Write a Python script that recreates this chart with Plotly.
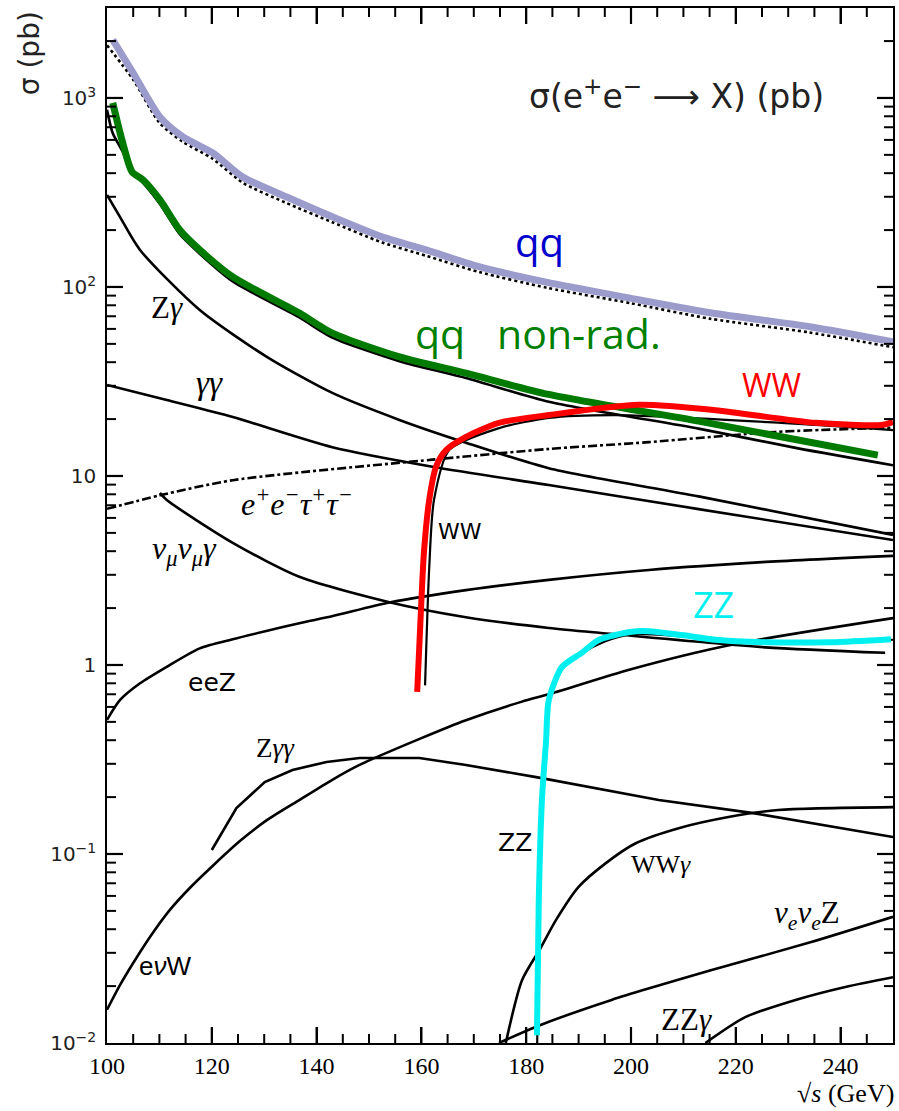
import plotly.graph_objects as go
import math

# ---------------- data ----------------
qq_x = [101.1, 105.0, 110.1, 114.5, 120.2, 125.9, 134.3, 143.0, 152.5, 160.9, 171.0, 183.8, 199.6, 215.4, 234.4, 250.0]
qq_y = [2030, 1356, 793, 622, 512, 382, 299, 235, 184, 157, 128, 106, 87.5, 72.8, 61.4, 51.2]

qqtot_x = [100, 105, 110, 114.5, 120, 126, 134, 143, 152.5, 161, 171, 184, 200, 215, 234, 250]
qqtot_y = [1900, 1250, 740, 585, 480, 355, 280, 220, 172, 146, 120, 99, 82, 68, 57.5, 48]

nonrad_x = [101.1, 103.0, 104.8, 106.9, 110.1, 113.9, 117.7, 124.0, 136.7, 143.0, 155.8, 168.5, 184.3, 212.9, 231.9, 247.1]
nonrad_y = [942, 578, 406, 368, 289, 200, 157, 113, 72.8, 57, 42.7, 35, 27, 19.5, 15.5, 12.9]

nonrad_blk_x = [100, 101.1, 103, 104.8, 106.9, 110.1, 113.9, 117.7, 124, 136.7, 143, 155.8, 168.5, 184.3, 212.9, 231.9, 250]
nonrad_blk_y = [865, 650, 520, 410, 355, 275, 190, 150, 107, 69, 54, 40.5, 33, 24.7, 17.8, 14.0, 11.4]

zg_x = [100, 102.5, 106.3, 117.7, 130.5, 143, 155.8, 168.5, 184.3, 212.9, 250]
zg_y = [307, 234, 157, 75.5, 42.7, 27.5, 19.8, 15, 11.0, 7.8, 4.88]

gg_x = [100, 111.4, 124, 143, 162.1, 184.3, 212.9, 250]
gg_y = [30.3, 25.2, 20.5, 14.2, 11.2, 8.95, 6.68, 4.58]

tau_x = [100, 110.1, 124, 162.1, 184.3, 203.4, 227.5, 250]
tau_y = [6.7, 7.9, 9.5, 12.2, 13.9, 15.1, 17.1, 18.0]

nmg_x = [110.1, 111.4, 124, 136.7, 153.9, 168.5, 184.3, 193.9, 225.6, 248.5]
nmg_y = [8.13, 7.46, 4.43, 2.93, 2.15, 1.79, 1.57, 1.48, 1.24, 1.16]

eez_x = [100, 102.5, 106.3, 111.4, 117.7, 124.0, 130.4, 136.7, 143.1, 153.9, 168.5, 184.3, 203.4, 225, 250]
eez_y = [0.512, 0.653, 0.80, 0.978, 1.225, 1.368, 1.513, 1.663, 1.815, 2.14, 2.49, 2.82, 3.18, 3.5, 3.78]

zgg_x = [120.0, 124.7, 130.1, 135.4, 141.9, 148.2, 159.6, 168.5, 181.9, 205.3, 223, 250]
zgg_y = [0.105, 0.175, 0.240, 0.278, 0.307, 0.322, 0.322, 0.296, 0.255, 0.193, 0.165, 0.123]

enw_x = [100, 102.5, 105.0, 108.2, 112.0, 115.8, 120.2, 125.3, 130.5, 136.7, 143.0, 148.2, 160, 168.5, 179.2, 184.3, 200, 219.2, 250]
enw_y = [0.015, 0.0203, 0.0265, 0.0364, 0.0506, 0.0661, 0.0867, 0.1167, 0.151, 0.193, 0.247, 0.296, 0.41, 0.51, 0.64, 0.70, 0.95, 1.28, 1.77]

wwg_x = [176.1, 179.2, 182.8, 185.7, 190, 195.2, 200.9, 209.1, 218.6, 228.1, 250]
wwg_y = [0.01, 0.0215, 0.032, 0.0448, 0.067, 0.0895, 0.114, 0.137, 0.157, 0.171, 0.177]

nez_x = [174.8, 181.9, 196.3, 215.4, 234.4, 250]
nez_y = [0.01, 0.0122, 0.0169, 0.0243, 0.0342, 0.0465]

zzg_x = [214.2, 221.8, 231.4, 240.9, 250]
zzg_y = [0.01, 0.0137, 0.0169, 0.0198, 0.0223]

ww_blk_x = [160.7, 161.5, 162.4, 165.3, 174.8, 184.3, 197.1, 228.7, 250]
ww_blk_y = [0.78, 3.3, 7.46, 13.7, 17.9, 20.3, 21, 19.1, 17.5]

zz_blk_x = [182.1, 182.5, 183.2, 184.3, 186.8, 190.6, 195, 200, 210, 225, 250]
zz_blk_y = [0.01, 0.06, 0.25, 0.62, 0.95, 1.15, 1.33, 1.45, 1.42, 1.33, 1.36]

ww_x = [159.2, 160.0, 160.5, 161.5, 162.8, 164.7, 168.5, 174.8, 184.3, 201.5, 216.1, 235.2, 247.7, 250]
ww_y = [0.72, 2.2, 4.0, 7.5, 11.2, 13.7, 16.1, 19.1, 21, 23.8, 22.3, 19.1, 18.6, 19.3]

zz_x = [182.05, 182.4, 183.0, 183.8, 184.3, 186.8, 190.6, 193.9, 200.1, 203.4, 209.7, 216.1, 225.6, 238.2, 249.6]
zz_y = [0.011, 0.057, 0.193, 0.40, 0.65, 0.975, 1.16, 1.36, 1.5, 1.51, 1.44, 1.36, 1.32, 1.32, 1.37]

x_ticks = [100, 120, 140, 160, 180, 200, 220, 240]
y_ticks = [0.01, 0.1, 1, 10, 100, 1000]
y_ticktext = ["10<sup>−2</sup>", "10<sup>−1</sup>", "1", "10", "10<sup>2</sup>", "10<sup>3</sup>"]

X_RANGE = [100, 250]
Y_RANGE = [-2, 3.476]   # log10 units

# ---------------- figure ----------------
fig = go.Figure()
BLK = "black"

def add(x, y, color=BLK, width=2.6, dash="solid", shape="spline"):
    fig.add_trace(go.Scatter(x=x, y=y, mode="lines",
                             line=dict(color=color, width=width, dash=dash,
                                       shape=shape, smoothing=0.7),
                             showlegend=False, hoverinfo="skip"))

add(qqtot_x, qqtot_y, dash="dot")
add(nonrad_blk_x, nonrad_blk_y)
add(zg_x, zg_y)
add(gg_x, gg_y)
add(tau_x, tau_y, dash="dashdot")
add(nmg_x, nmg_y)
add(eez_x, eez_y)
add(zgg_x, zgg_y, shape="linear")
add(enw_x, enw_y)
add(wwg_x, wwg_y)
add(nez_x, nez_y)
add(zzg_x, zzg_y)
add(ww_blk_x, ww_blk_y, width=2.2)
add(zz_blk_x, zz_blk_y, width=2.2)

add(qq_x, qq_y, color="#9b9bcc", width=7)
add(nonrad_x, nonrad_y, color="#007a00", width=7)
add(ww_x, ww_y, color="#ff0000", width=6)
add(zz_x, zz_y, color="#00f0f0", width=6)

# ---------------- tick marks (inside, on all four sides) as line traces ----------------
PLOT_W, PLOT_H = 788.0, 1035.0
GEV_PER_PX = (X_RANGE[1] - X_RANGE[0]) / PLOT_W
DEC_PER_PX = (Y_RANGE[1] - Y_RANGE[0]) / PLOT_H
x_minor = [v for v in range(105, 250, 5) if v % 20 != 0]
y_minor = [m * 10 ** e for e in range(-2, 4) for m in range(2, 10)
           if math.log10(m * 10 ** e) < Y_RANGE[1]]

def tick_trace(xs, ys, w):
    fig.add_trace(go.Scatter(x=xs, y=ys, mode="lines", connectgaps=False,
                             line=dict(color="#000000", width=w),
                             showlegend=False, hoverinfo="skip"))

for vals, ln, w in ((x_ticks[1:], 16, 2.2), (x_minor, 9, 2.0)):
    xs, ys = [], []
    ylo, yhi = 10 ** Y_RANGE[0], 10 ** Y_RANGE[1]
    for v in vals:
        xs += [v, v, None, v, v, None]
        ys += [ylo, 10 ** (Y_RANGE[0] + ln * DEC_PER_PX), None,
               yhi, 10 ** (Y_RANGE[1] - ln * DEC_PER_PX), None]
    tick_trace(xs, ys, w)
for vals, ln, w in ((y_ticks[1:], 16, 2.2), (y_minor, 9, 2.0)):
    xs, ys = [], []
    for v in vals:
        xs += [X_RANGE[0], X_RANGE[0] + ln * GEV_PER_PX, None,
               X_RANGE[1], X_RANGE[1] - ln * GEV_PER_PX, None]
        ys += [v, v, None, v, v, None]
    tick_trace(xs, ys, w)

def lab(x, y, text, size=22, color="black", family="Liberation Sans"):
    fig.add_annotation(x=x, y=math.log10(y), xref="x", yref="y", text=text,
                       showarrow=False, font=dict(size=size, color=color, family=family),
                       xanchor="center", yanchor="middle")

G = lambda s: "<i>" + s + "</i>"
SER = "Liberation Serif"
lab(111.4, 10 ** 1.889, "Z" + G("γ"), family=SER, size=31)
lab(119.6, 10 ** 1.492, G("γγ"), family=SER, size=33)
lab(136.2, 10 ** 0.862, G("e<sup>+</sup>e<sup>−</sup>τ<sup>+</sup>τ<sup>−</sup>"), family=SER, size=32)
lab(167.4, 10 ** 0.704, "WW", size=22, family="DejaVu Sans")
lab(114.7, 10 ** 0.608, G("ν<sub>μ</sub>ν<sub>μ</sub>γ"), family=SER, size=32)
lab(120.0, 10 ** -0.090, "eeZ", size=25, family="DejaVu Sans")
lab(132.2, 10 ** -0.439, "Z" + G("γγ"), size=27, family=SER)
lab(177.9, 10 ** -0.937, "ZZ", size=25, family="DejaVu Sans")
lab(205.8, 10 ** -1.058, "WW" + G("γ"), size=26, family=SER)
lab(233.6, 10 ** -1.323, G("ν<sub>e</sub>ν<sub>e</sub>") + "Z", size=31, family=SER)
lab(210.6, 10 ** -1.878, "ZZ" + G("γ"), size=31, family=SER)
lab(111.0, 10 ** -1.593, "e" + G("ν") + "W", size=26, family="Liberation Sans")

lab(182.6, 10 ** 2.24, "qq", size=40, color="#0000cc", family="Open Sans")
lab(182.2, 10 ** 1.755, "qq&nbsp;&nbsp; non-rad.", size=41, color="#008000", family="Open Sans")
lab(227.0, 10 ** 1.485, "WW", size=32, color="#ff0000", family="Open Sans")
lab(215.7, 10 ** 0.32, "ZZ", size=36, color="#00f0f0", family="Open Sans")

lab(208.7, 10 ** 3.016, "σ(e<sup>+</sup>e<sup>−</sup> ⟶ X) (pb)", size=33, color="#222222", family="DejaVu Sans")

fig.add_annotation(x=-0.099, y=0.9565, xref="paper", yref="paper", text="σ (pb)",
                   textangle=-90, showarrow=False, xanchor="center", yanchor="middle",
                   font=dict(size=28, family="DejaVu Sans", color="#222222"))
fig.add_annotation(x=0.94, y=-0.049, xref="paper", yref="paper", text="√<i>s</i> (GeV)",
                   showarrow=False, xanchor="center", yanchor="middle",
                   font=dict(size=26, family=SER, color="black"))

fig.update_layout(
    width=899, height=1111,
    margin=dict(l=107, r=4, t=8, b=68),
    plot_bgcolor="white", paper_bgcolor="white",
    xaxis=dict(range=X_RANGE, tickmode="array", tickvals=x_ticks,
               ticks="inside", ticklen=16, tickwidth=2, tickcolor="black",
               showline=True, linecolor="black", linewidth=1.5, mirror="ticks",
               showgrid=False, zeroline=False,
               tickfont=dict(family=SER, size=24, color="black")),
    yaxis=dict(type="log", range=Y_RANGE, tickmode="array", tickvals=y_ticks,
               ticktext=y_ticktext, ticks="inside", ticklen=16, tickwidth=2,
               tickcolor="black", ticklabelstandoff=5,
               showline=True, linecolor="black", linewidth=1.5, mirror="ticks",
               showgrid=False, zeroline=False,
               tickfont=dict(family="DejaVu Sans", size=20, color="#222222")),
)

fig.write_html("out.html")
